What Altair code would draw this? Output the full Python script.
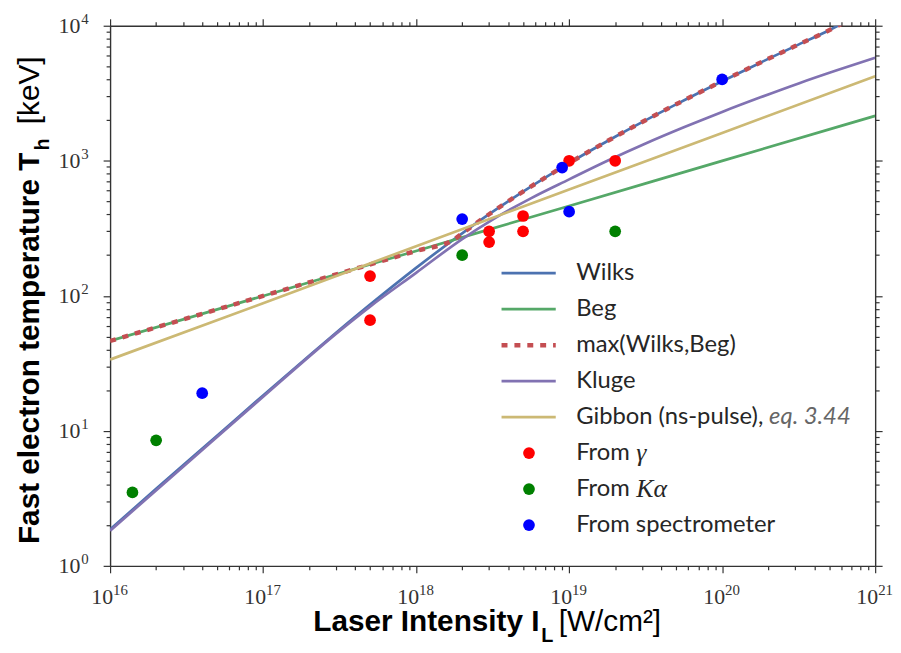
import altair as alt
import pandas as pd

# ---------------- data ----------------
wilks_I = [1e16, 2e16, 5e16, 1e17, 2e17, 3e17, 5e17, 1e18, 2e18, 3e18, 5e18, 1e19, 2e19, 3e19, 5e19, 1e20, 2e20, 3e20, 5e20, 6.2e20]
wilks_T = [1.86, 3.72, 9.2, 18.3, 36.0, 53.2, 86.0, 161, 290, 402, 591, 961, 1507, 1934, 2618, 3885, 5685, 7068, 9265, 10500]

beg_I = [1e16, 1e17, 1e18, 1e19, 1e20, 1e21]
beg_T = [46.3, 99.8, 215, 463, 998, 2150]

max_I = [1e16, 1e17, 1e18, 1.75e18, 2e18, 3e18, 5e18, 1e19, 2e19, 3e19, 5e19, 1e20, 2e20, 3e20, 5e20, 6.2e20]
max_T = [46.3, 99.8, 215, 259, 290, 402, 591, 961, 1507, 1934, 2618, 3885, 5685, 7068, 9265, 10500]

kluge_I = [1e16, 3.16e16, 1e17, 3.16e17, 5e17, 1e18, 2e18, 3.16e18, 5.62e18, 1e19, 1.78e19,
           3.16e19, 5.62e19, 1e20, 1.78e20, 3.16e20, 5.62e20, 1e21]
kluge_T = [1.82, 5.71, 17.9, 55.0, 83.2, 148, 263, 367, 527, 728, 1000,
           1343, 1770, 2301, 2951, 3741, 4677, 5794]

gibbon_I = [1e16, 1e17, 1e18, 1e19, 1e20, 1e21]
gibbon_T = [33.7, 88, 233, 612, 1607, 4225]

gamma_I = [5e17, 5e17, 3e18, 3e18, 5e18, 5e18, 1e19, 2e19]
gamma_T = [140, 66, 300, 250, 390, 300, 1000, 1000]

kalpha_I = [1.4e16, 2e16, 2e18, 2e19]
kalpha_T = [3.5, 8.5, 200, 300]

spec_I = [4e16, 2e18, 9e18, 1e19, 1e20]
spec_T = [19, 370, 890, 420, 4000]

x_major = [1e16, 1e17, 1e18, 1e19, 1e20, 1e21]
x_exponents = ["16", "17", "18", "19", "20", "21"]
y_major = [1, 10, 100, 1000, 10000]
y_exponents = ["0", "1", "2", "3", "4"]

legend_names = ["Wilks", "Beg", "max(Wilks,Beg)", "Kluge", "Gibbon (ns-pulse), "]

# ---------------- layout ----------------
W, H = 772, 545
AX = "#333333"
LW = 2.7
x_scale = alt.Scale(type="log", domain=[1e16, 1e21], nice=False)
y_scale = alt.Scale(type="log", domain=[1, 1e4], nice=False)

x_ticks = [m * 10.0 ** k for k in range(16, 21) for m in range(1, 10)] + [1e21]
y_ticks = [m * 10.0 ** k for k in range(0, 4) for m in range(1, 10)] + [1e4]
major_test = "abs(log(datum.value)/LN10 - round(log(datum.value)/LN10)) < 0.001"
tick_size = {"condition": {"test": major_test, "value": 7}, "value": 4}


def line_layer(xs, ys, color, width, dash=None):
    df = pd.DataFrame({"I": xs, "T": ys})
    kw = dict(color=color, strokeWidth=width, clip=True, interpolate="monotone")
    if dash:
        kw["strokeDash"] = dash
    return alt.Chart(df).mark_line(**kw).encode(
        x=alt.X("I:Q", scale=x_scale, axis=None),
        y=alt.Y("T:Q", scale=y_scale, axis=None),
    )


def point_layer(xs, ys, color):
    df = pd.DataFrame({"I": xs, "T": ys})
    return alt.Chart(df).mark_point(filled=True, shape="circle", size=140, color=color, opacity=1).encode(
        x=alt.X("I:Q", scale=x_scale, axis=None),
        y=alt.Y("T:Q", scale=y_scale, axis=None),
    )


def axis_def(orient):
    return alt.Axis(orient=orient, labels=False, title=None, grid=False,
                    values=x_ticks if orient in ("bottom", "top") else y_ticks,
                    domain=True, domainColor=AX, domainWidth=1.4,
                    ticks=True, tickColor=AX, tickWidth=1.2, tickSize=tick_size)


def txt(s, x, y, **kw):
    base = dict(align="left", baseline="alphabetic")
    base.update(kw)
    return alt.Chart(pd.DataFrame({"t": [s]})).mark_text(**base).encode(
        text="t:N", x=alt.value(x), y=alt.value(y))


pts_df = pd.DataFrame({"I": spec_I, "T": spec_T})
axes_bl = alt.Chart(pts_df).mark_point(opacity=0).encode(
    x=alt.X("I:Q", scale=x_scale, axis=axis_def("bottom")),
    y=alt.Y("T:Q", scale=y_scale, axis=axis_def("left")),
)
axes_tr = alt.Chart(pts_df).mark_point(opacity=0).encode(
    x=alt.X("I:Q", scale=x_scale, axis=axis_def("top")),
    y=alt.Y("T:Q", scale=y_scale, axis=axis_def("right")),
)

# tick labels drawn through the scales
xl_df = pd.DataFrame({"v": x_major, "b": ["10"] * len(x_major), "e": x_exponents})
yl_df = pd.DataFrame({"v": y_major, "b": ["10"] * len(y_major), "e": y_exponents})
TF = "Liberation Serif"
x_lab10 = alt.Chart(xl_df).mark_text(align="right", baseline="alphabetic", font=TF, fontSize=22, color=AX, dx=3).encode(
    x=alt.X("v:Q", scale=x_scale, axis=None), y=alt.value(H + 38), text="b:N")
x_labe = alt.Chart(xl_df).mark_text(align="left", baseline="alphabetic", font=TF, fontSize=15, color=AX, dx=3).encode(
    x=alt.X("v:Q", scale=x_scale, axis=None), y=alt.value(H + 29), text="e:N")
y_lab10 = alt.Chart(yl_df).mark_text(align="right", baseline="alphabetic", font=TF, fontSize=22, color=AX, dy=7).encode(
    y=alt.Y("v:Q", scale=y_scale, axis=None), x=alt.value(-30), text="b:N")
y_labe = alt.Chart(yl_df).mark_text(align="left", baseline="alphabetic", font=TF, fontSize=15, color=AX, dy=-2).encode(
    y=alt.Y("v:Q", scale=y_scale, axis=None), x=alt.value(-29), text="e:N")

# axis titles
SF = "Liberation Sans"
titles = [
    txt("Laser Intensity I", 205, 611, font=SF, fontSize=30, fontWeight="bold", color="black"),
    txt("L", 435, 622, font=SF, fontSize=20, fontWeight="bold", color="black"),
    txt("[W/cm²]", 556, 611, align="right", font=SF, fontSize=30, color="black"),
    txt("Fast electron temperature T", -72, 523, angle=270, font=SF, fontSize=30, fontWeight="bold", color="black"),
    txt("h", -62, 126, angle=270, font=SF, fontSize=20, fontWeight="bold", color="black"),
    txt("[keV]", -72, 31, angle=270, align="right", font=SF, fontSize=30, color="black"),
]

# legend
LF = "Lato"
row0, dy_row = 249.7, 36.3
gx1, gx2, gmx, tx = 395, 449.7, 422.7, 470.3
line_styles = [("#4C72B0", LW, None), ("#55A868", LW, None), ("#C44E52", 4.5, [6, 7]),
               ("#8172B2", LW, None), ("#CCB974", LW, None)]
legend_layers = []
one = pd.DataFrame({"a": [0]})
for i, (name, (col, wdt, dash)) in enumerate(zip(legend_names, line_styles)):
    yy = row0 + i * dy_row
    kw = dict(color=col, strokeWidth=wdt)
    if dash:
        kw["strokeDash"] = dash
    legend_layers.append(alt.Chart(one).mark_rule(**kw).encode(
        x=alt.value(gx1), x2=alt.value(gx2), y=alt.value(yy)))
    legend_layers.append(txt(name, tx, yy, baseline="middle", font=LF, fontSize=24, color="#262626"))
legend_layers.append(txt("eq.  3.44", 665, row0 + 4 * dy_row, baseline="middle", font=LF, fontSize=24,
                         fontStyle="italic", color="#666666"))
for j, (col, lab, sym) in enumerate([("#FF0000", "From ", "γ"), ("#008000", "From ", "Kα"), ("#0000FF", "From spectrometer", "")]):
    yy = row0 + (5 + j) * dy_row
    legend_layers.append(alt.Chart(one).mark_point(filled=True, shape="circle", size=140, color=col, opacity=1).encode(
        x=alt.value(gmx), y=alt.value(yy)))
    legend_layers.append(txt(lab, tx, yy, baseline="middle", font=LF, fontSize=24, color="#262626"))
    if sym:
        legend_layers.append(txt(sym, 531, yy, baseline="middle", font=TF, fontSize=26, fontStyle="italic", color="#262626"))

main = alt.layer(
    line_layer(wilks_I, wilks_T, "#4C72B0", LW),
    line_layer(beg_I, beg_T, "#55A868", LW),
    line_layer(max_I, max_T, "#C44E52", 4.5, [6, 7]),
    line_layer(kluge_I, kluge_T, "#8172B2", LW),
    line_layer(gibbon_I, gibbon_T, "#CCB974", LW),
    point_layer(gamma_I, gamma_T, "#FF0000"),
    point_layer(kalpha_I, kalpha_T, "#008000"),
    point_layer(spec_I, spec_T, "#0000FF"),
    axes_bl, axes_tr,
    x_lab10, x_labe, y_lab10, y_labe,
    *titles,
    *legend_layers,
).resolve_axis(x="independent", y="independent")

chart = main.properties(
    width=W, height=H,
    autosize=alt.AutoSizeParams(type="none"),
    padding={"left": 103, "top": 15, "right": 18, "bottom": 82},
).configure_view(stroke=None)

chart.save("out.html", embed_options={"renderer": "svg", "actions": False})
